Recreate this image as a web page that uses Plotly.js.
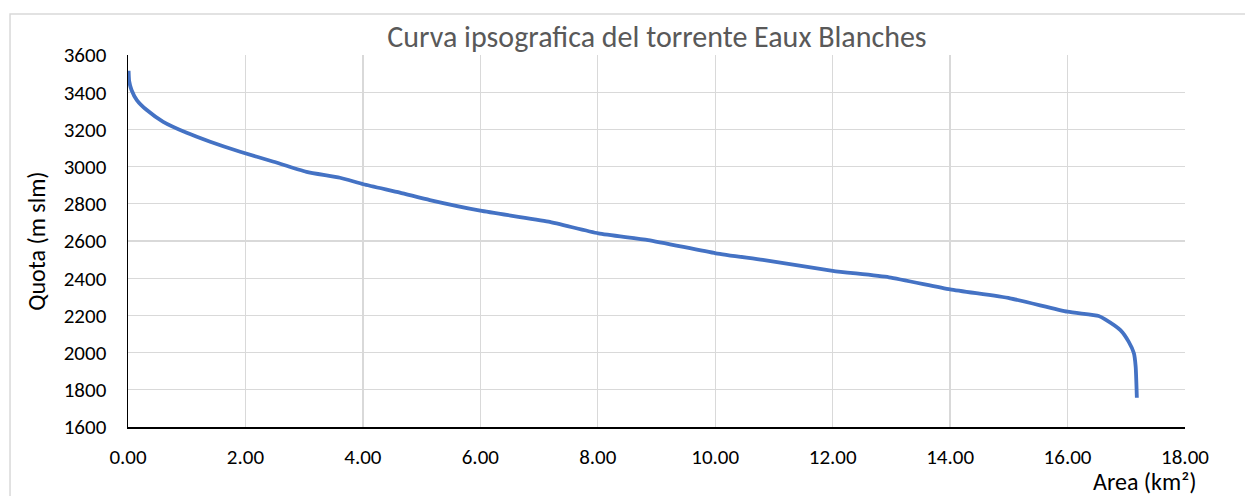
<!DOCTYPE html>
<html>
<head>
<meta charset="utf-8">
<script src="https://cdn.plot.ly/plotly-3.0.1.min.js"></script>
<style>
html,body{margin:0;padding:0;background:#fff;}
#chart{width:1245px;height:496px;}
</style>
</head>
<body>
<div id="chart"></div>
<script>
const chartTitle = "Curva ipsografica del torrente Eaux Blanches";
const xTitle = "Area (km²)";
const yTitle = "Quota (m slm)";
const area = [0.01, 0.02, 0.06, 0.15, 0.32, 0.60, 1.00, 1.40, 1.91, 2.48, 3.04, 3.61, 4.01, 4.63, 5.14, 6.00, 7.16, 8.01, 8.86, 10.01, 10.81, 12.00, 12.96, 14.00, 15.02, 16.00, 16.53, 16.64, 16.90, 17.04, 17.13, 17.16, 17.18];
const quota = [3515, 3460, 3412, 3358, 3304, 3241, 3182, 3134, 3080, 3026, 2972, 2940, 2905, 2860, 2820, 2763, 2704, 2641, 2605, 2534, 2498, 2440, 2405, 2340, 2292, 2220, 2197, 2179, 2121, 2059, 1996, 1924, 1757];
const xTicks = [0, 2, 4, 6, 8, 10, 12, 14, 16, 18];
const yTicks = [1600, 1800, 2000, 2200, 2400, 2600, 2800, 3000, 3200, 3400, 3600];

const FONT = "Carlito, Calibri, Lato, 'Open Sans', sans-serif";

const trace = {
  x: area, y: quota, type: 'scatter', mode: 'lines',
  line: {color: '#4472C4', width: 3.8, shape: 'spline', smoothing: 0.5},
  hoverinfo: 'x+y', showlegend: false
};

const layout = {
  width: 1245, height: 496,
  margin: {l: 128, r: 60, t: 55, b: 69},
  paper_bgcolor: '#fff', plot_bgcolor: '#fff',
  font: {family: FONT, color: '#000', size: 21},
  title: {text: chartTitle, font: {family: FONT, size: 30, color: '#595959'},
          x: 0.5277, xanchor: 'center', yref: 'container', y: 0.926, yanchor: 'middle'},
  xaxis: {
    range: [0, 18], tickvals: xTicks, ticktext: xTicks.map(v => v.toFixed(2)),
    showgrid: true, gridcolor: '#d9d9d9', gridwidth: 1.3,
    showline: true, linecolor: '#000', linewidth: 1.5, zeroline: false,
    ticks: 'outside', ticklen: 10, tickcolor: 'rgba(0,0,0,0)',
    tickfont: {family: FONT, size: 21, color: '#000'}
  },
  yaxis: {
    range: [1600, 3600], tickvals: yTicks, ticktext: yTicks.map(String),
    showgrid: true, gridcolor: '#d9d9d9', gridwidth: 1.3,
    showline: true, linecolor: '#000', linewidth: 1.5, zeroline: false,
    ticks: 'outside', ticklen: 16, tickcolor: 'rgba(0,0,0,0)',
    tickfont: {family: FONT, size: 21, color: '#000'},
    title: {text: yTitle, font: {family: FONT, size: 24, color: '#000'}, standoff: 11}
  },
  annotations: [{
    text: xTitle, xref: 'paper', yref: 'paper', x: 1.0132, y: -0.1478,
    xanchor: 'right', yanchor: 'middle', showarrow: false,
    font: {family: FONT, size: 24, color: '#000'}
  }],
  shapes: [{
    type: 'rect', xref: 'paper', yref: 'paper',
    x0: -0.1116, x1: 1.08, y0: -0.25, y1: 1.110,
    line: {color: '#d9d9d9', width: 1.5}, fillcolor: 'rgba(0,0,0,0)', layer: 'below'
  }]
};

Plotly.newPlot('chart', [trace], layout, {displayModeBar: false, staticPlot: true});
</script>
</body>
</html>
